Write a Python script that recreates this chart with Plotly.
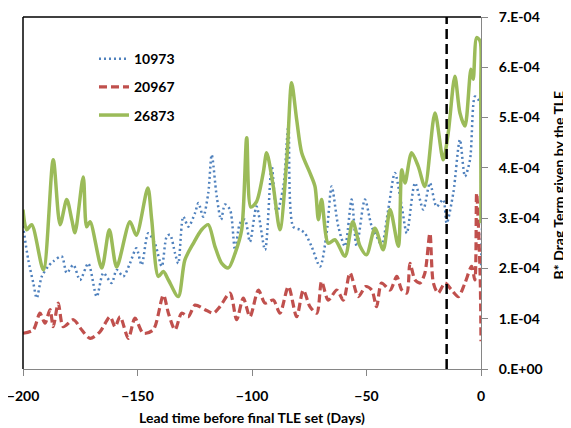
import plotly.graph_objects as go

# Days before final TLE and B* values (units of 1e-4)
days_10973 = [-200, -197.7, -195.5, -194, -191.8, -189, -186.8, -183.1, -180.9, -178, -175.1, -171.5,
              -167.8, -164.9, -161.3, -159.1, -156.2, -153.3, -150.5, -148.2, -145.3, -142.4, -139.4,
              -137.2, -135.8, -133.6, -132.2, -130, -127.8, -124.9, -123.4, -121.3, -119.1, -117.6,
              -115.4, -113.5, -111.8, -109.6, -107.4, -105.2, -103.1, -100.9, -98, -94.3, -91.4, -89.2,
              -86.3, -84.1, -82, -79, -76.9, -74, -70.3, -67.4, -65.2, -62.3, -59.4, -56.5, -54.3,
              -50.7, -47.7, -44.8, -43.4, -40.5, -37.6, -34.6, -32.4, -28.8, -25.2, -22.3, -19.4,
              -16.5, -15, -12.1, -9.2, -7, -4.8, -2.6, -0.4, 0]
bstar_10973 = [2.85, 2.17, 1.71, 1.41, 1.84, 2.04, 2.14, 2.24, 1.91, 2.07, 1.77, 2.10,
               1.44, 1.91, 1.71, 1.97, 1.84, 2.10, 2.40, 2.07, 2.70, 2.50, 2.04,
               2.64, 2.67, 2.30, 2.10, 3.03, 2.83, 3.10, 3.30, 3.03, 3.50, 4.26,
               3.43, 2.97, 3.27, 3.17, 2.37, 2.90, 2.97, 2.53, 3.23, 2.37, 4.03, 3.10,
               3.63, 4.83, 2.83, 2.77, 2.70, 2.44, 2.04, 2.70, 3.63, 2.83, 2.44, 3.37, 2.44,
               3.37, 2.83, 2.57, 2.44, 3.17, 3.90, 3.23, 2.70, 3.70, 3.17, 3.70, 3.23,
               3.37, 2.90, 3.50, 4.56, 3.83, 4.16, 5.42, 5.29, 2.0]

days_20967 = [-200, -195.5, -192.6, -190.4, -188.2, -186.8, -184.6, -182.4, -178, -174.4, -170.7,
              -166.4, -162, -159.8, -157.6, -154, -151.1, -147.5, -143.1, -138.7, -136.5, -133.6,
              -130.7, -127.8, -124.9, -120.5, -116.9, -114, -109.6, -106.7, -103.8, -100.9, -97.2,
              -94.3, -90.7, -87.8, -84.1, -80.5, -77.6, -74.7, -71.7, -69.6, -66.7, -63, -60.1,
              -57.2, -53.6, -50.3, -47.7, -45.6, -43.4, -39.7, -36.8, -34.6, -32.4, -31, -28.8,
              -26.6, -24.5, -22.3, -20.8, -18.7, -15.7, -12.8, -9.9, -7, -4.1, -2.7, -1.9, -0.4, 0]
bstar_20967 = [0.71, 0.78, 1.11, 0.91, 1.18, 0.84, 1.31, 0.84, 0.98, 0.78, 0.61,
               0.74, 1.04, 0.84, 1.04, 0.61, 1.01, 0.71, 0.78, 1.47, 1.11, 0.78,
               1.11, 1.04, 1.27, 1.18, 1.11, 1.24, 1.51, 0.98, 1.41, 1.04, 1.57,
               1.31, 1.37, 1.11, 1.64, 1.04, 1.57, 1.24, 1.11, 1.74, 1.37, 1.57, 1.37,
               1.91, 1.44, 1.64, 1.57, 1.24, 1.71, 1.57, 1.84, 1.57, 1.51, 2.10, 1.77,
               1.71, 1.91, 2.70, 1.71, 1.51, 1.71, 1.57, 1.44, 1.71, 2.04, 1.77, 3.50, 1.91, 0.55]

days_26873 = [-200, -198.4, -196.2, -191.1, -186.8, -183.8, -180.9, -178.7, -177.3, -173.7, -172.2,
              -170.7, -165.6, -162.3, -159.1, -153.3, -150.5, -145.5, -143.8, -140.9, -138.7, -136.5,
              -132.2, -129.3, -125.6, -122, -119.1, -116.2, -113.2, -110.3, -107.4, -104.5, -102.3,
              -100.5, -98, -95.1, -93.6, -90.7, -87.8, -84.8, -82.7, -80.5, -78.3, -74.7, -72.5,
              -71, -69.6, -66.7, -63.8, -59.4, -56, -52.8, -50, -46.3, -42.7, -39.7, -36.1, -34.6,
              -33.2, -30.3, -27.4, -24.5, -20.1, -16.5, -14.3, -11.4, -9.2, -7, -4.4, -3.4, -1.9,
              -0.4, -0.1, 0]
bstar_26873 = [3.17, 2.77, 2.87, 1.97, 4.16, 2.87, 3.37, 2.97, 2.71, 3.82, 2.83,
               2.93, 2.01, 2.77, 2.03, 2.93, 2.66, 3.60, 2.97, 1.84, 1.94, 1.77,
               1.44, 2.17, 2.50, 2.77, 2.87, 2.44, 2.10, 2.01, 2.30, 2.77, 4.60,
               3.22, 3.33, 3.90, 4.30, 3.63, 2.77, 4.16, 5.69, 4.96, 4.30, 3.90, 3.63,
               2.97, 3.37, 2.50, 2.57, 2.24, 2.93, 2.44, 2.27, 2.80, 2.37, 3.17, 2.44, 3.96,
               3.70, 4.30, 4.03, 3.63, 5.09, 4.16, 4.70, 5.82, 5.09, 4.83, 5.96, 5.76, 6.59,
               6.52, 5.6, 2.9]

x_ticks = [-200, -150, -100, -50, 0]
y_tick_vals = [0, 1e-4, 2e-4, 3e-4, 4e-4, 5e-4, 6e-4, 7e-4]
y_tick_text = ["0.E+00", "1.E-04", "2.E-04", "3.E-04", "4.E-04", "5.E-04", "6.E-04", "7.E-04"]
cutoff_day = -15
SCALE = 1e-4

FONT = "Lato"
fig = go.Figure()
fig.add_trace(go.Scatter(x=days_10973, y=[v * SCALE for v in bstar_10973], name="10973",
                         mode="lines", legendgroup="a",
                         line=dict(color="#4F81BD", width=2.5, dash="2px,3px", shape="spline", smoothing=0.8)))
fig.add_trace(go.Scatter(x=days_20967, y=[v * SCALE for v in bstar_20967], name="20967",
                         mode="lines", legendgroup="b",
                         line=dict(color="#C0504D", width=3.2, dash="8px,4px", shape="spline", smoothing=0.8)))
fig.add_trace(go.Scatter(x=days_26873, y=[v * SCALE for v in bstar_26873], name="26873",
                         mode="lines", legendgroup="c",
                         line=dict(color="#9BBB59", width=3.5, shape="spline", smoothing=0.8)))

fig.add_shape(type="line", xref="x", yref="paper", x0=cutoff_day, x1=cutoff_day, y0=0, y1=1,
              line=dict(color="black", width=2.5, dash="10px,5px"))
fig.add_shape(type="line", xref="paper", yref="paper", x0=0, x1=0, y0=0, y1=1,
              line=dict(color="black", width=1.5))
fig.add_shape(type="line", xref="paper", yref="paper", x0=0, x1=1, y0=1, y1=1,
              line=dict(color="black", width=1.5))

fig.add_annotation(text="Lead time before final TLE set (Days)", xref="paper", yref="paper",
                   x=0.5, y=-0.139, showarrow=False, xanchor="center", yanchor="middle",
                   font=dict(family=FONT, size=14, color="black", weight="bold"))
fig.add_annotation(text="B* Drag Term given by the TLE", xref="paper", yref="paper",
                   x=1.170, y=0.524, showarrow=False, xanchor="center", yanchor="middle",
                   textangle=-90, font=dict(family=FONT, size=14, color="black", weight="bold"))

fig.update_layout(
    width=563, height=420,
    margin=dict(l=15, r=90, t=9, b=59, autoexpand=False),
    paper_bgcolor="white", plot_bgcolor="white",
    showlegend=True,
    legend=dict(x=0.155, y=0.926, xanchor="left", yanchor="top", tracegroupgap=7,
                font=dict(family=FONT, size=14, color="black", weight="bold"),
                bgcolor="rgba(0,0,0,0)"),
    xaxis=dict(range=[-200, 0], tickvals=x_ticks, ticks="outside", ticklen=6, tickcolor="#868686",
               showline=True, linecolor="#868686", linewidth=1, showgrid=False, zeroline=False,
               ticklabelstandoff=8, automargin=False, ticklabeloverflow="allow",
               tickfont=dict(family=FONT, size=14, color="black", weight="bold")),
    yaxis=dict(range=[0, 7e-4], side="right", tickvals=y_tick_vals, ticktext=y_tick_text,
               ticks="outside", ticklen=6, tickcolor="#868686", showline=True, linecolor="#868686",
               linewidth=1, showgrid=False, zeroline=False, ticklabelstandoff=8, automargin=False,
               ticklabeloverflow="allow",
               tickfont=dict(family=FONT, size=14, color="black", weight="bold")),
)

fig.write_html("out.html")
